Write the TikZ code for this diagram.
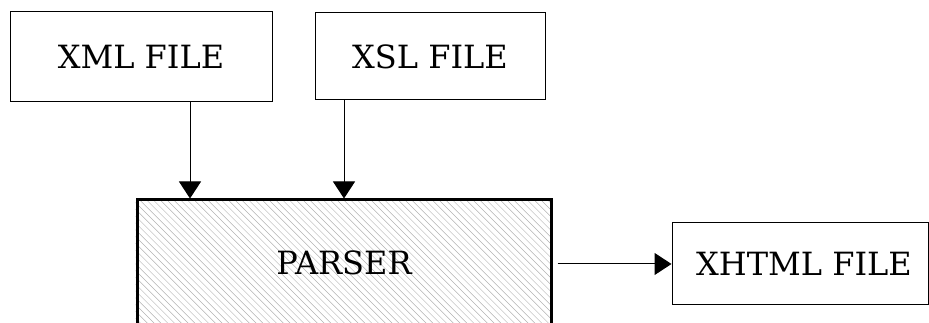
\documentclass[tikz,border=0pt]{standalone}
\usepackage{fontspec}
\setmainfont{DejaVu Serif}
\usepackage{tikz}
\usetikzlibrary{arrows.meta,backgrounds}
\tikzset{
  filebox/.style={draw=black,line width=1pt,fill=white,align=center,inner sep=0pt,font=\fontsize{32}{38}\selectfont},
  parserbox/.style={filebox,line width=3pt,fill=none},
  hatch/.style={draw=black!30,line width=0.45pt},
  flow/.style={-{Triangle[length=17pt,width=22pt]},line width=1pt,draw=black}
}
\begin{document}
\begin{tikzpicture}[x=1pt,y=1pt]
  \useasboundingbox (0,0) rectangle (929,323);
  \node[filebox,minimum width=262pt,minimum height=90pt] (xml) at (141,266) {XML FILE};
  \node[filebox,minimum width=230pt,minimum height=87pt] (xsl) at (430,266.5) {XSL FILE};
  \node[parserbox,minimum width=414pt,minimum height=126pt] (parser) at (344,60) {PARSER};
  \node[filebox,minimum width=256pt,minimum height=82pt] (xhtml) at (800,59) {\hspace*{8pt}XHTML FILE};
  % hatching of the parser
  \begin{scope}[on background layer]
    \clip (parser.south west) rectangle (parser.north east);
    \foreach \c in {120,126.8,...,690}
      \draw[hatch] (\c+10,-10) -- (\c-140,140);
  \end{scope}
  % inputs
  \draw[flow] ([xshift=49pt]xml.south) -- ([xshift=49pt]xml.south |- parser.north);
  \draw[flow] ([xshift=-86pt]xsl.south) -- ([xshift=-86pt]xsl.south |- parser.north);
  % output
  \draw[flow] ([xshift=5pt]parser.east |- xhtml.west) -- (xhtml.west);
\end{tikzpicture}
\end{document}
